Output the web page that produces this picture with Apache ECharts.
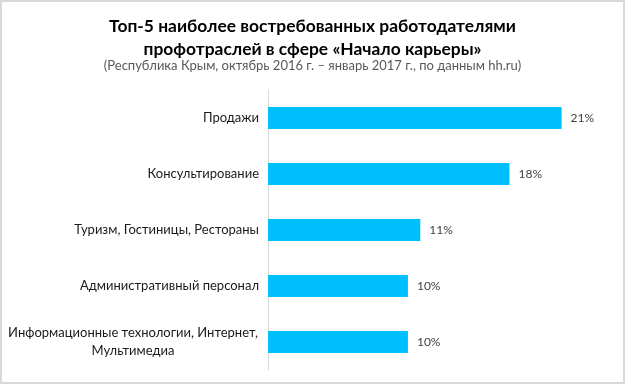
<!DOCTYPE html>
<html><head><meta charset="utf-8">
<script src="https://cdn.jsdelivr.net/npm/echarts@6/dist/echarts.min.js"></script>
<style>
html,body{margin:0;padding:0;background:#fff;}
#wrap{position:absolute;left:0;top:0;width:621px;height:380px;border:2px solid #d9d9d9;}
#c{width:621px;height:380px;}
</style></head><body>
<div id="wrap"><div id="c"></div></div>
<script>
const categories = ['Продажи','Консультирование','Туризм, Гостиницы, Рестораны','Административный персонал','Информационные технологии, Интернет,\nМультимедиа'];
const values = [21.4, 17.6, 11.1, 10.2, 10.2];
const titleText = 'Топ-5 наиболее востребованных работодателями\nпрофотраслей в сфере «Начало карьеры»';
const subtitleText = '(Республика Крым, октябрь 2016 г. – январь 2017 г., по данным hh.ru)';

const chart = echarts.init(document.getElementById('c'));
chart.setOption({
  animation:false,
  title:{
    text:titleText, subtext:subtitleText, left:'center', top:8, itemGap:-2,
    textStyle:{fontFamily:'Lato',fontWeight:'bold',fontSize:17.4,color:'#000',lineHeight:23},
    subtextStyle:{fontFamily:'Lato',fontSize:13,color:'#595959'}
  },
  grid:{left:266, right:12, top:88, bottom:12, containLabel:false},
  xAxis:{type:'value', min:0, max:25, show:false},
  yAxis:{
    type:'category', inverse:true, data:categories,
    axisLine:{show:true, lineStyle:{color:'#d9d9d9'}},
    axisTick:{show:false},
    axisLabel:{
      margin:9, fontFamily:'Lato', fontSize:13, color:'#1a1a1a',
      formatter:function(v){
        if(v.indexOf('\n')>=0){
          const p=v.split('\n');
          return '{c|'+p[0]+'}\n{c|'+p[1]+'}';
        }
        return v;
      },
      rich:{c:{width:252, align:'center', fontFamily:'Lato', fontSize:13, color:'#1a1a1a', lineHeight:18}}
    }
  },
  series:[{
    type:'bar', data:values, barWidth:22,
    itemStyle:{color:'#00bfff'},
    label:{show:true, position:'right', distance:9, fontFamily:'Lato', fontSize:12, color:'#404040',
      formatter:function(p){return Math.round(p.value)+'%';}}
  }]
});
</script>
</body></html>
